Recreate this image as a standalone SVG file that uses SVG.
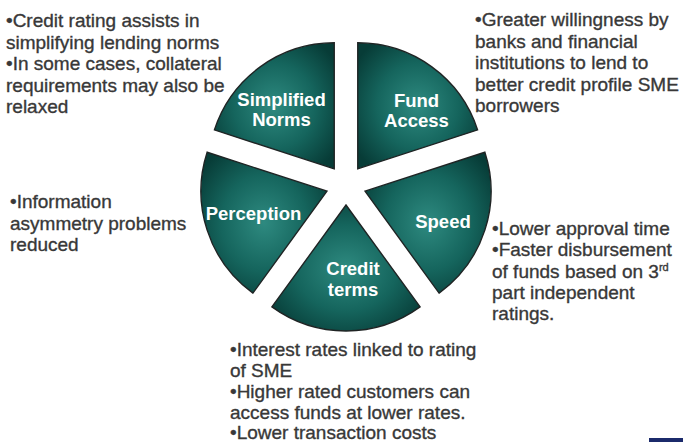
<svg xmlns="http://www.w3.org/2000/svg" width="683" height="442" viewBox="0 0 683 442">
  <style>
    .seg { stroke: #1f2424; stroke-width: 1.4; }
    .lbl { font-family: "Liberation Sans", Arial, sans-serif; font-weight: bold; font-size: 18.5px; fill: #ffffff; text-anchor: middle; }
    .note { font-family: "Liberation Sans", Arial, sans-serif; font-size: 19px; fill: #383838; stroke: #383838; stroke-width: 0.35; }
    .sup { font-size: 11px; }
  </style>
  <defs>
    <radialGradient id="teal" cx="50%" cy="50%" r="62%">
      <stop offset="0" stop-color="#2e8a80"/>
      <stop offset="0.55" stop-color="#15655d"/>
      <stop offset="1" stop-color="#073c37"/>
    </radialGradient>
  </defs>

  <rect width="683" height="442" fill="#ffffff"/>

  <!-- exploded five-slice wheel -->
  <g id="fund-access">
    <path class="seg" fill="url(#teal)" d="M357.76,168.82 L357.76,42.82 A126,126 0 0 1 477.60,129.89 Z"/>
    <text class="lbl" x="416.5" y="106.5">Fund</text>
    <text class="lbl" x="416.5" y="127">Access</text>
  </g>
  <g id="speed">
    <path class="seg" fill="url(#teal)" d="M365.02,191.18 L484.86,152.25 A126,126 0 0 1 439.08,293.11 Z"/>
    <text class="lbl" x="443" y="228">Speed</text>
  </g>
  <g id="credit-terms">
    <path class="seg" fill="url(#teal)" d="M346,205 L420.06,306.93 A126,126 0 0 1 271.94,306.93 Z"/>
    <text class="lbl" x="353" y="275">Credit</text>
    <text class="lbl" x="353" y="296">terms</text>
  </g>
  <g id="perception">
    <path class="seg" fill="url(#teal)" d="M326.98,191.18 L252.92,293.11 A126,126 0 0 1 207.14,152.25 Z"/>
    <text class="lbl" x="253.5" y="220">Perception</text>
  </g>
  <g id="simplified-norms">
    <path class="seg" fill="url(#teal)" d="M334.24,168.82 L214.40,129.89 A126,126 0 0 1 334.24,42.82 Z"/>
    <text class="lbl" x="281.5" y="106">Simplified</text>
    <text class="lbl" x="281.5" y="126">Norms</text>
  </g>

  <!-- explanatory notes beside each slice -->
  <g id="notes-simplified-norms" class="note">
    <text x="6" y="27">•Credit rating assists in</text>
    <text x="6" y="48.5">simplifying lending norms</text>
    <text x="6" y="70">•In some cases, collateral</text>
    <text x="6" y="91.5">requirements may also be</text>
    <text x="6" y="113">relaxed</text>
  </g>
  <g id="notes-fund-access" class="note">
    <text x="475" y="26">•Greater willingness by</text>
    <text x="475" y="47.5">banks and financial</text>
    <text x="475" y="69">institutions to lend to</text>
    <text x="475" y="90.5">better credit profile SME</text>
    <text x="475" y="112">borrowers</text>
  </g>
  <g id="notes-perception" class="note">
    <text x="10" y="208">•Information</text>
    <text x="10" y="229.5">asymmetry problems</text>
    <text x="10" y="251">reduced</text>
  </g>
  <g id="notes-speed" class="note">
    <text x="492" y="235">•Lower approval time</text>
    <text x="492" y="256">•Faster disbursement</text>
    <text x="492" y="277.5">of funds based on 3<tspan class="sup" dy="-7">rd</tspan></text>
    <text x="492" y="299">part independent</text>
    <text x="492" y="320">ratings.</text>
  </g>
  <g id="notes-credit-terms" class="note">
    <text x="230" y="356">•Interest rates linked to rating</text>
    <text x="230" y="377">of SME</text>
    <text x="230" y="398">•Higher rated customers can</text>
    <text x="230" y="418.5">access funds at lower rates.</text>
    <text x="230" y="438.5">•Lower transaction costs</text>
  </g>

  <!-- footer bar fragment -->
  <rect x="649" y="438" width="34" height="4" fill="#1b2a6b"/>
</svg>
